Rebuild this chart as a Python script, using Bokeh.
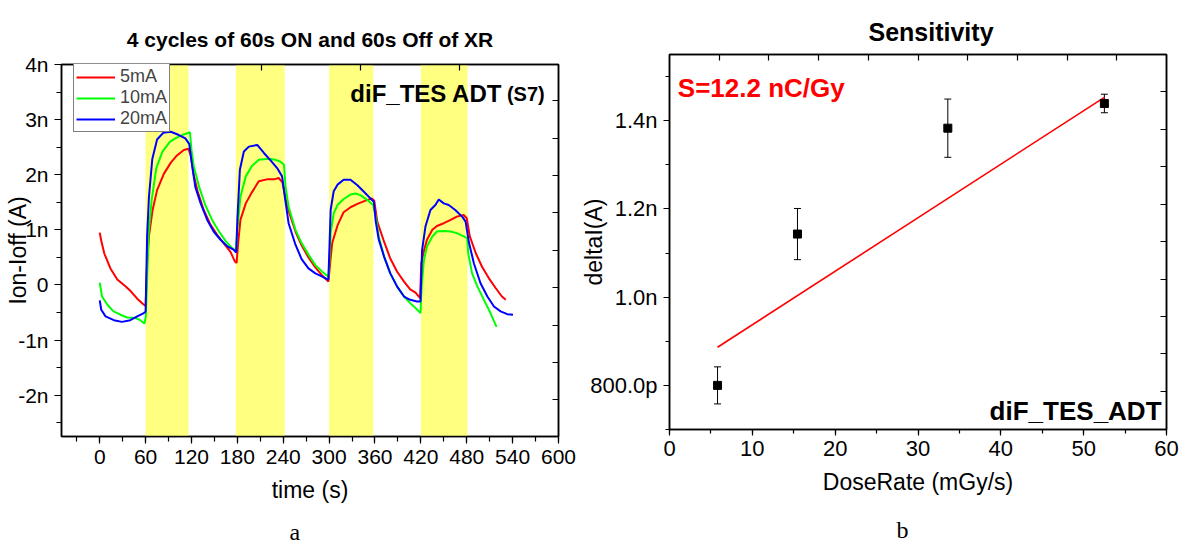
import math
from bokeh.plotting import figure
from bokeh.models import (Range1d, Label, Legend, LegendItem, BoxAnnotation, Whisker, TeeHead,
                          ColumnDataSource, FixedTicker, SingleIntervalTicker, LinearAxis,
                          CustomJSTickFormatter, Title)
from bokeh.layouts import row, column
from bokeh.embed import file_html
from bokeh.resources import INLINE

FONT = "Liberation Sans"

# ---------------- data: panel a (current, nA) ----------------
on_start = [60, 178, 300, 420]
on_end = [116, 242, 358, 481]

t_5mA = [0, 2, 6, 14, 23, 34, 41, 49, 57, 60,
         62, 64.5, 69, 75, 84, 93, 101, 110, 116,
         119, 123, 128, 136, 145, 154, 162, 171, 177, 179,
         181, 184, 191, 199, 208, 220, 229, 234, 239,
         243, 248, 256, 264, 273, 282, 291, 299,
         300.5, 304, 311, 319, 328, 337, 346, 356, 359,
         363, 372, 380, 389, 398, 406, 413, 419,
         420.5, 424, 428, 435, 441, 450, 459, 467, 476, 480,
         484, 492, 500, 509, 518, 526, 531]
i_5mA = [0.95, 0.80, 0.57, 0.30, 0.10, -0.03, -0.12, -0.25, -0.35, -0.38,
         0.40, 0.90, 1.35, 1.72, 2.02, 2.22, 2.35, 2.45, 2.47,
         2.35, 1.99, 1.70, 1.36, 1.09, 0.90, 0.76, 0.60, 0.42, 0.40,
         0.76, 1.18, 1.48, 1.68, 1.88, 1.92, 1.92, 1.94, 1.86,
         1.57, 1.30, 0.97, 0.72, 0.50, 0.32, 0.17, 0.06,
         0.27, 0.76, 1.08, 1.32, 1.41, 1.47, 1.52, 1.57, 1.53,
         1.15, 0.78, 0.48, 0.24, 0.06, -0.08, -0.14, -0.24,
         0.39, 0.62, 0.82, 1.00, 1.07, 1.12, 1.18, 1.24, 1.27, 1.21,
         0.88, 0.57, 0.33, 0.12, -0.06, -0.21, -0.27]

t_10mA = [0, 3, 10, 18, 27, 36, 47, 53, 58.5, 60.3,
          64, 68, 74, 82, 92, 100, 108, 118,
          120, 123, 130, 138, 147, 156, 165, 173, 178,
          180, 184, 191, 199, 208, 221, 230, 236, 241,
          243, 247, 256, 264, 273, 282, 291, 299,
          300.5, 302, 306, 311, 319, 328, 334.5, 341, 350, 357.6,
          361, 365, 372, 380, 389, 398, 406, 413, 419.5,
          421, 424, 428, 435, 441, 450, 459, 467, 476, 480.5,
          482, 487, 494, 502.5, 511, 519]
i_10mA = [0.04, -0.21, -0.36, -0.48, -0.54, -0.59, -0.60, -0.64, -0.70, -0.57,
          0.95, 1.55, 2.12, 2.42, 2.60, 2.67, 2.72, 2.77,
          2.45, 2.15, 1.78, 1.45, 1.18, 0.97, 0.79, 0.67, 0.62,
          1.00, 1.60, 1.97, 2.16, 2.27, 2.29, 2.27, 2.24, 2.18,
          1.79, 1.42, 1.00, 0.76, 0.55, 0.36, 0.24, 0.15,
          0.45, 0.94, 1.30, 1.45, 1.56, 1.64, 1.66, 1.63, 1.54, 1.45,
          1.24, 0.88, 0.51, 0.21, -0.03, -0.21, -0.33, -0.42, -0.51,
          -0.03, 0.45, 0.70, 0.88, 0.97, 0.98, 0.97, 0.94, 0.88, 0.85,
          0.57, 0.21, -0.03, -0.27, -0.51, -0.76]

t_20mA = [0, 2, 7.6, 18.5, 29, 40, 49, 57.7, 60,
          62, 64.4, 68.7, 75, 83, 93, 103.5, 112, 117,
          121, 125, 132, 140.6, 149, 158, 167, 175, 178.5,
          180, 183.3, 188.5, 195, 206, 215, 224, 232, 238.5,
          242.6, 247, 256, 264, 273, 282, 291, 299,
          300.5, 302, 306, 311, 319, 328, 337, 345.5, 354, 358.5,
          361, 365, 372, 380, 389, 398, 406, 415, 419.5,
          421.6, 426, 432.5, 439, 443.4, 450, 456.4, 465, 474, 478.5,
          483, 489.4, 498, 507, 515.6, 524.3, 533, 540.5]
i_20mA = [-0.28, -0.45, -0.57, -0.64, -0.67, -0.64, -0.57, -0.51, -0.48,
          0.90, 1.60, 2.28, 2.64, 2.76, 2.78, 2.72, 2.66, 2.56,
          2.15, 1.78, 1.48, 1.18, 0.97, 0.82, 0.70, 0.64, 0.59,
          1.18, 2.09, 2.42, 2.51, 2.54, 2.39, 2.25, 2.12, 1.97,
          1.55, 1.12, 0.73, 0.47, 0.30, 0.21, 0.15, 0.09,
          0.70, 1.36, 1.70, 1.82, 1.91, 1.91, 1.81, 1.69, 1.57, 1.51,
          1.15, 0.82, 0.51, 0.21, -0.03, -0.21, -0.27, -0.30, -0.30,
          0.63, 1.06, 1.36, 1.45, 1.55, 1.48, 1.45, 1.36, 1.24, 1.15,
          0.76, 0.39, 0.03, -0.21, -0.39, -0.48, -0.53, -0.54]

series_labels = ["5mA", "10mA", "20mA"]
series_colors = ["#FF0000", "#00FF00", "#0000FF"]

a_yticks = [-2, -1, 0, 1, 2, 3, 4]
a_ylabels = ["-2n", "-1n", "0", "1n", "2n", "3n", "4n"]

# ---------------- data: panel b ----------------
dose_rate = [5.8, 15.45, 33.6, 52.5]
delta_i = [0.800, 1.143, 1.383, 1.439]      # nA
delta_err = [0.042, 0.058, 0.066, 0.021]    # nA
fit_slope = 0.01213       # nA per mGy/s  (12.2 nC/Gy)
fit_intercept = 0.8161    # nA

b_yticks = [0.8, 1.0, 1.2, 1.4]
b_ylabels = ["800.0p", "1.0n", "1.2n", "1.4n"]

blank = CustomJSTickFormatter(code="return ''")


def style_axis(ax, size):
    ax.axis_line_color = "black"
    ax.axis_line_width = 1.5
    ax.major_tick_line_color = "black"
    ax.minor_tick_line_color = "black"
    ax.major_tick_line_width = 1.2
    ax.minor_tick_line_width = 1.2
    ax.major_label_text_font = FONT
    ax.major_label_text_font_size = size
    ax.major_label_text_color = "black"
    ax.axis_label_text_font = FONT
    ax.axis_label_text_font_size = "23px"
    ax.axis_label_text_font_style = "normal"
    ax.axis_label_text_color = "black"


def inner_axis(ticks):
    ax = LinearAxis(ticker=FixedTicker(ticks=ticks, minor_ticks=[]), formatter=blank)
    style_axis(ax, "2px")
    ax.major_tick_in = 6
    ax.major_tick_out = 0
    ax.minor_tick_in = 0
    ax.minor_tick_out = 0
    ax.major_label_standoff = 0
    return ax


def lab(p, x, y, text, size, bold=False, color="black", align="center", baseline="middle",
        font=FONT):
    p.add_layout(Label(x=x, y=y, text=text, text_font=font, text_font_size=size,
                       text_font_style="bold" if bold else "normal", text_color=color,
                       text_align=align, text_baseline=baseline))


def letter(p, text, offset, standoff):
    p.add_layout(Title(text=text, align="left", offset=offset, vertical_align="top",
                       standoff=standoff, text_font="Liberation Serif", text_font_size="24px",
                       text_font_style="normal", text_color="black"), "below")


# ============ panel a ============
p1 = figure(width=578, height=548, frame_width=497, frame_height=372,
            x_range=Range1d(-50, 600), y_range=Range1d(-2.75, 4.0),
            title="4 cycles of 60s ON and 60s Off of XR",
            output_backend="svg", toolbar_location=None,
            min_border_left=61, min_border_right=20, min_border_top=64, min_border_bottom=112)
p1.title.text_font = FONT
p1.title.text_font_size = "21px"
p1.title.text_font_style = "bold"
p1.title.text_color = "black"
p1.title.align = "center"
p1.title.standoff = 27
p1.xgrid.visible = False
p1.ygrid.visible = False
p1.outline_line_color = "black"
p1.outline_line_width = 1.5
p1.background_fill_color = "white"
p1.border_fill_color = "white"

for s, e in zip(on_start, on_end):
    p1.add_layout(BoxAnnotation(left=s, right=e, fill_color="#FFFF80", fill_alpha=1.0,
                                line_color=None, level="underlay"))

renderers = []
for tt, ii, c in zip([t_5mA, t_10mA, t_20mA], [i_5mA, i_10mA, i_20mA], series_colors):
    renderers.append(p1.line(tt, ii, line_color=c, line_width=2))

xa = p1.xaxis[0]
xa.ticker = SingleIntervalTicker(interval=60, num_minor_ticks=2)
style_axis(xa, "21px")
xa.major_tick_out = 7
xa.major_tick_in = 0
xa.minor_tick_out = 5
xa.minor_tick_in = 0
xa.major_label_standoff = 6
xa.axis_label = "time (s)"
xa.axis_label_standoff = 10

ya = p1.yaxis[0]
ya.ticker = FixedTicker(ticks=a_yticks, minor_ticks=[-2.5, -1.5, -0.5, 0.5, 1.5, 2.5, 3.5])
ya.major_label_overrides = {t: l for t, l in zip(a_yticks, a_ylabels)}
style_axis(ya, "21px")
ya.major_tick_out = 7
ya.major_tick_in = 0
ya.minor_tick_out = 5
ya.minor_tick_in = 0
ya.major_label_standoff = 6
ya.axis_label = "Ion-Ioff (A)"
ya.axis_label_standoff = -16

p1.add_layout(inner_axis([81, 211, 341, 471]), "above")
p1.add_layout(inner_axis([3.34, 2.66, 1.98, 1.31, 0.63, -0.05, -0.73, -1.40, -2.07]), "right")

legend = Legend(items=[LegendItem(label=l, renderers=[r]) for l, r in zip(series_labels, renderers)],
                location=(12, 304))
legend.border_line_color = "black"
legend.border_line_width = 1
legend.background_fill_color = "white"
legend.background_fill_alpha = 1.0
legend.padding = 2
legend.spacing = 0
legend.margin = 0
legend.glyph_width = 39
legend.glyph_height = 20
legend.label_height = 20
legend.label_standoff = 5
legend.label_text_font = FONT
legend.label_text_font_size = "18px"
legend.label_text_baseline = "middle"
p1.add_layout(legend)

lab(p1, 526.5, 3.48, "diF_TES ADT", "24px", bold=True, align="right")
lab(p1, 532.5, 3.47, "(S7)", "20px", bold=True, align="left")
letter(p1, "a", 228, 26)

# ============ panel b ============
p2 = figure(width=601, height=548, frame_width=497, frame_height=375,
            x_range=Range1d(0, 60), y_range=Range1d(0.70, 1.55),
            title="Sensitivity",
            output_backend="svg", toolbar_location=None,
            min_border_left=87, min_border_right=17, min_border_top=54, min_border_bottom=119)
p2.title.text_font = FONT
p2.title.text_font_size = "25px"
p2.title.text_font_style = "bold"
p2.title.text_color = "black"
p2.title.align = "left"
p2.title.offset = 199
p2.title.standoff = 18
p2.xgrid.visible = False
p2.ygrid.visible = False
p2.outline_line_color = "black"
p2.outline_line_width = 1.5
p2.background_fill_color = "white"
p2.border_fill_color = "white"

x_fit = [dose_rate[0], dose_rate[-1]]
y_fit = [fit_intercept + fit_slope * x for x in x_fit]
p2.line(x_fit, y_fit, line_color="#FF0000", line_width=1.6)

src = ColumnDataSource(dict(x=dose_rate, y=delta_i,
                            upper=[v + e for v, e in zip(delta_i, delta_err)],
                            lower=[v - e for v, e in zip(delta_i, delta_err)]))
p2.add_layout(Whisker(source=src, base="x", upper="upper", lower="lower", dimension="height",
                      line_color="black", line_width=1,
                      upper_head=TeeHead(size=7, line_color="black", line_width=1),
                      lower_head=TeeHead(size=7, line_color="black", line_width=1)))
p2.scatter("x", "y", source=src, marker="square", size=8, color="black")

xb = p2.xaxis[0]
xb.ticker = SingleIntervalTicker(interval=10, num_minor_ticks=2)
style_axis(xb, "22px")
xb.major_tick_out = 6
xb.major_tick_in = 0
xb.minor_tick_out = 4
xb.minor_tick_in = 0
xb.major_label_standoff = 5
xb.axis_label = "DoseRate (mGy/s)"
xb.axis_label_standoff = 10

yb = p2.yaxis[0]
yb.ticker = FixedTicker(ticks=b_yticks, minor_ticks=[0.7, 0.9, 1.1, 1.3, 1.5])
yb.major_label_overrides = {t: l for t, l in zip(b_yticks, b_ylabels)}
style_axis(yb, "22px")
yb.major_tick_out = 6
yb.major_tick_in = 0
yb.minor_tick_out = 4
yb.minor_tick_in = 0
yb.major_label_standoff = 6
yb.axis_label = "deltaI(A)"
yb.axis_label_standoff = -20

p2.add_layout(inner_axis([6, 12, 18, 24, 30, 36, 42, 48, 54]), "above")
p2.add_layout(inner_axis([0.786, 0.872, 0.956, 1.041, 1.126, 1.211, 1.296, 1.380, 1.466]), "right")

lab(p2, 1.0, 1.473, "S=12.2 nC/Gy", "26px", bold=True, color="#FF0000", align="left")
lab(p2, 59.4, 0.741, "diF_TES_ADT", "26px", bold=True, align="right")
letter(p2, "b", 227, 38)

layout = row(column(p1), column(p2))
open("out.html", "w").write(file_html(layout, INLINE))
